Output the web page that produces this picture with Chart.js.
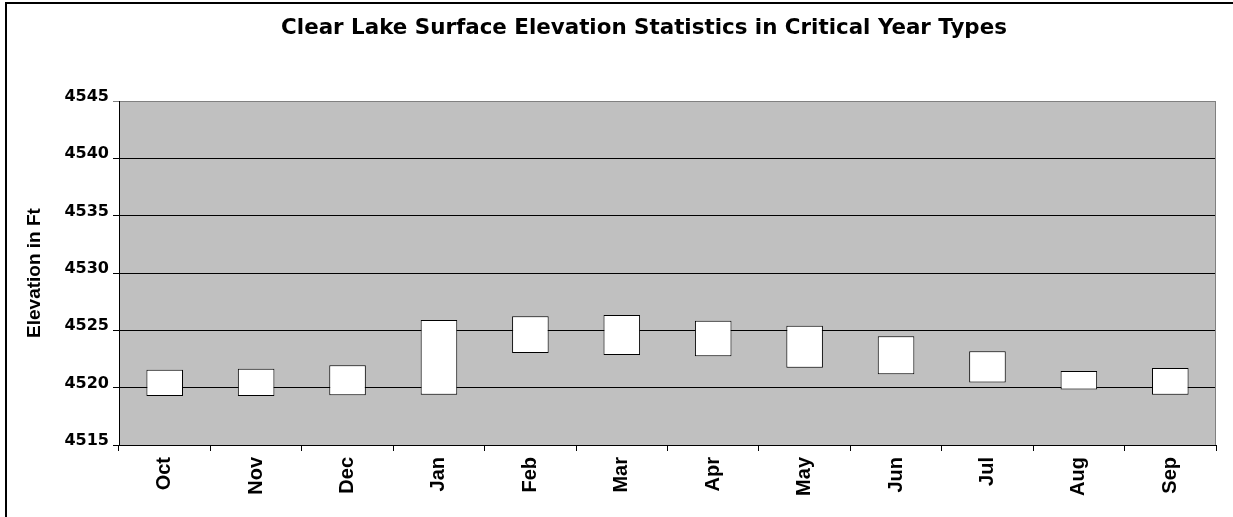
<!DOCTYPE html>
<html>
<head>
<meta charset="utf-8">
<script src="https://cdn.jsdelivr.net/npm/chart.js@4.4.1/dist/chart.umd.min.js"></script>
<style>
  html, body { margin: 0; padding: 0; background: #fff; }
  #wrap { width: 1233px; height: 517px; }
</style>
</head>
<body>
<div id="wrap"><canvas id="c" width="1233" height="517"></canvas></div>
<script>
const chartTitle = "Clear Lake Surface Elevation Statistics in Critical Year Types";
const yAxisTitle = "Elevation in Ft";
const months = ["Oct", "Nov", "Dec", "Jan", "Feb", "Mar", "Apr", "May", "Jun", "Jul", "Aug", "Sep"];
const lowValues  = [4519.27, 4519.27, 4519.33, 4519.39, 4523.02, 4522.85, 4522.75, 4521.73, 4521.16, 4520.46, 4519.83, 4519.39];
const highValues = [4521.57, 4521.66, 4521.95, 4525.90, 4526.22, 4526.34, 4525.84, 4525.40, 4524.48, 4523.18, 4521.45, 4521.71];
const yTickValues = [4515, 4520, 4525, 4530, 4535, 4540, 4545];
const yTickLabels = ["4515", "4520", "4525", "4530", "4535", "4540", "4545"];

const ranges = months.map((m, i) => [lowValues[i], highValues[i]]);

const decorPlugin = {
  id: 'decor',
  beforeDraw(chart) {
    const { ctx, chartArea: a } = chart;
    ctx.save();
    ctx.fillStyle = '#ffffff';
    ctx.fillRect(0, 0, chart.width, chart.height);
    ctx.fillStyle = '#c0c0c0';
    ctx.fillRect(a.left, a.top, a.right - a.left, a.bottom - a.top);
    ctx.restore();
  },
  afterDraw(chart) {
    const { ctx, chartArea: a } = chart;
    ctx.save();
    ctx.strokeStyle = '#808080';
    ctx.lineWidth = 1;
    ctx.beginPath();
    ctx.moveTo(Math.round(a.right) - 0.5, a.top);
    ctx.lineTo(Math.round(a.right) - 0.5, a.bottom);
    ctx.stroke();
    ctx.strokeStyle = '#000000';
    ctx.lineWidth = 2;
    ctx.beginPath();
    ctx.moveTo(6, chart.height + 5);
    ctx.lineTo(6, 3);
    ctx.lineTo(chart.width + 5, 3);
    ctx.stroke();
    ctx.fillStyle = '#000000';
    ctx.font = 'bold 21.4px "DejaVu Sans"';
    ctx.textAlign = 'center';
    ctx.textBaseline = 'alphabetic';
    ctx.fillText(chartTitle, 644, 34);
    ctx.restore();
  }
};

new Chart(document.getElementById('c'), {
  type: 'bar',
  data: {
    labels: months,
    datasets: [{
      data: ranges,
      backgroundColor: '#ffffff',
      borderColor: '#000000',
      borderWidth: 1,
      borderSkipped: false,
      categoryPercentage: 1.0,
      barPercentage: 0.4
    }]
  },
  options: {
    responsive: false,
    animation: false,
    layout: { padding: { top: 101, right: 17, left: 0, bottom: 0 } },
    plugins: {
      legend: { display: false },
      tooltip: { enabled: false },
      title: { display: false }
    },
    scales: {
      x: {
        offset: true,
        grid: { display: true, drawOnChartArea: false, drawTicks: true, tickLength: 6, color: '#000000', offset: true },
        border: { display: true, color: '#000000', width: 1 },
        ticks: {
          color: '#000000',
          font: { family: 'Liberation Sans', weight: 'bold', size: 20 },
          minRotation: 90, maxRotation: 90,
          padding: 6,
          autoSkip: false
        },
        afterFit(s) { s.height = 72; }
      },
      y: {
        min: 4515, max: 4545,
        afterBuildTicks(s) { s.ticks = yTickValues.map(v => ({ value: v })); },
        grid: {
          color: c => (c.tick && c.tick.value === 4545) ? '#808080' : '#000000',
          tickLength: 6,
          drawTicks: true
        },
        border: { display: true, color: '#000000', width: 1 },
        ticks: {
          color: '#000000',
          font: { family: 'DejaVu Sans', weight: 'bold', size: 16 },
          padding: 4,
          labelOffset: -4,
          callback: (v) => yTickLabels[yTickValues.indexOf(v)] ?? String(v)
        },
        title: {
          display: true,
          text: yAxisTitle,
          color: '#000000',
          font: { family: 'Liberation Sans', weight: 'bold', size: 19 },
          padding: { top: 23, bottom: 0 }
        },
        afterFit(s) { s.width = 119; }
      }
    }
  },
  plugins: [decorPlugin]
});
</script>
</body>
</html>
